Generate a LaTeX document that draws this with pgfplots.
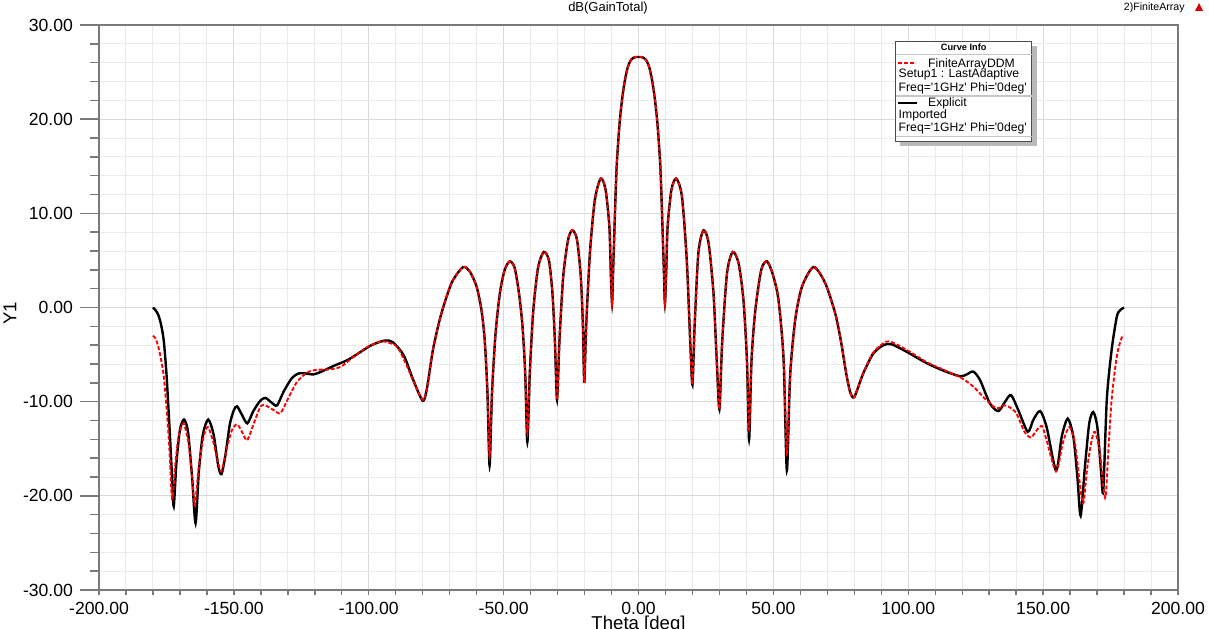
\documentclass[border=0pt]{standalone}
\usepackage{fontspec}
\setmainfont{Liberation Sans}
\usepackage{pgfplots}
\pgfplotsset{compat=1.18}
\usepackage{pgfplotstable}
\definecolor{axgray}{HTML}{7A7A7A}
\definecolor{majgrid}{HTML}{DADADA}
\definecolor{mingrid}{HTML}{EBEBEB}
\newcommand{\q}{\textquotesingle}

\pgfplotstableread{
theta gain
-180 0.0
-179 -0.3
-178 -0.8
-177 -1.8
-176 -3.5
-175 -7.0
-174 -12.0
-173 -17.5
-172.3 -21.1
-171.3 -16.5
-170 -13.0
-168.5 -11.9
-167 -13.2
-165.5 -18.0
-164.2 -22.9
-163 -17.5
-161.5 -13.5
-159.5 -11.9
-157.5 -13.5
-155.8 -16.8
-154.6 -17.7
-153.2 -15.8
-151.5 -12.4
-150 -10.9
-148.8 -10.5
-147 -11.4
-145 -12.3
-142.8 -11.0
-140.2 -9.9
-138.3 -9.6
-136 -10.1
-134 -10.4
-131.5 -8.9
-128.5 -7.5
-126 -7.0
-123.5 -7.0
-120.5 -7.1
-117.5 -6.8
-113 -6.2
-108 -5.6
-104 -4.9
-99 -4.0
-94 -3.5
-91 -3.7
-87 -5.1
-83.5 -7.7
-80 -9.9
-78.5 -8.7
-76.2 -4.5
-73.7 -1.3
-71.2 1.1
-68.8 2.9
-65 4.3
-62.5 3.8
-60 2.2
-58.2 -0.3
-57 -3.5
-56 -9.0
-55.2 -16.8
-54.3 -9.0
-53 -2.8
-51.4 1.5
-49.6 4.0
-47.7 4.9
-45.9 4.2
-44.3 1.5
-43 -2.0
-42 -7.0
-41.2 -14.3
-40.3 -7.0
-39 -0.3
-37.2 4.3
-35.1 5.9
-33.2 5.0
-31.9 1.5
-31 -3.5
-30.2 -9.8
-29.3 -3.5
-27.9 3.3
-26.1 7.2
-24.5 8.2
-22.8 7.2
-21.4 3.3
-20.6 -2.0
-20.1 -8.0
-19.4 -2.0
-18 5.8
-16.2 11.4
-14 13.7
-12.2 12.5
-10.8 8.6
-10.3 4.0
-9.8 0.4
-9.4 4.0
-9 7.5
-8.5 12.0
-8 15.5
-7 19.6
-6 22.3
-5 24.2
-4 25.5
-3 26.2
-2 26.5
-1 26.6
0 26.6
1 26.6
2 26.5
3 26.2
4 25.5
5 24.2
6 22.3
7 19.6
8 15.5
8.5 12.0
9 7.5
9.4 4.0
9.8 0.4
10.3 4.0
10.8 8.6
12.2 12.5
14 13.7
16.1 11.8
17.9 5.0
19.2 -3.8
20.0 -8.2
20.8 -2.0
22.2 5.8
24.1 8.2
26 6.8
27.8 1.5
29 -5.6
30 -10.8
31 -3.8
32.8 3.6
34.9 5.9
37.1 4.7
38.9 0.8
40.2 -5.6
41 -14.0
41.9 -5.6
43.3 -0.3
45.5 4.0
47.6 4.9
49.7 3.6
51.9 0.8
53.8 -5.6
55 -17.3
56.2 -7.3
58.1 -1.3
60.6 2.2
64.9 4.3
69.2 2.6
72.9 -0.6
75 -3.5
77 -7.0
78.5 -9.0
80 -9.5
83.3 -7.0
87 -4.9
90.8 -4.0
93.8 -3.9
99.4 -4.7
106.8 -5.9
113 -6.7
119.2 -7.3
121.7 -7.1
124.1 -6.8
126.6 -7.7
130.3 -10.2
133.4 -11.0
135.9 -10.0
138.1 -9.3
140.8 -10.9
144.3 -13.2
146.4 -11.9
148.9 -11.0
151.3 -12.7
154.8 -17.3
156.9 -13.7
159.1 -11.8
161.2 -13.7
162.7 -18.0
163.9 -22.1
165.5 -16.9
167.1 -12.3
168.6 -11.1
170.1 -12.7
171.5 -17.5
172.3 -19.5
173.6 -9.8
175.4 -4.5
177.3 -1.0
178.5 -0.3
180 0.0
}\explicitdata

\pgfplotstableread{
theta gain
-180 -3.0
-179 -3.3
-178 -4.2
-177 -5.5
-176 -7.3
-175 -10.5
-174 -14.5
-172.9 -20.3
-171.8 -16.9
-170.5 -13.7
-168.7 -12.3
-166.8 -14.4
-165.5 -18.0
-164.5 -21.0
-163 -16.9
-161.2 -13.7
-159.6 -12.7
-157.5 -14.4
-154.8 -17.4
-152.5 -14.8
-150.7 -13.0
-148.8 -12.4
-147 -13.2
-145.1 -14.1
-142.6 -12.3
-140.1 -10.5
-138.3 -10.4
-135.2 -10.9
-132.7 -11.2
-129.6 -9.5
-126.6 -7.9
-122.8 -6.9
-119.1 -6.6
-115.4 -6.6
-110.4 -6.3
-105.5 -5.2
-100.5 -4.2
-95.6 -3.6
-93.1 -3.7
-89.4 -4.2
-85.7 -6.3
-83.5 -7.8
-80 -9.8
-78.5 -8.7
-76.2 -4.5
-73.7 -1.3
-71.2 1.1
-68.8 2.9
-65 4.3
-62.5 3.8
-60 2.2
-58.2 -0.3
-57 -3.5
-56 -9.0
-55.2 -15.8
-54.3 -9.0
-53 -2.8
-51.4 1.5
-49.6 4.0
-47.7 4.9
-45.9 4.2
-44.3 1.5
-43 -2.0
-42 -7.0
-41.2 -13.3
-40.3 -7.0
-39 -0.3
-37.2 4.3
-35.1 5.9
-33.2 5.0
-31.9 1.5
-31 -3.5
-30.2 -9.8
-29.3 -3.5
-27.9 3.3
-26.1 7.2
-24.5 8.2
-22.8 7.2
-21.4 3.3
-20.6 -2.0
-20.1 -8.0
-19.4 -2.0
-18 5.8
-16.2 11.4
-14 13.7
-12.2 12.5
-10.8 8.6
-10.3 4.0
-9.8 0.4
-9.4 4.0
-9 7.5
-8.5 12.0
-8 15.5
-7 19.6
-6 22.3
-5 24.2
-4 25.5
-3 26.2
-2 26.5
-1 26.6
0 26.6
1 26.6
2 26.5
3 26.2
4 25.5
5 24.2
6 22.3
7 19.6
8 15.5
8.5 12.0
9 7.5
9.4 4.0
9.8 0.4
10.3 4.0
10.8 8.6
12.2 12.5
14 13.7
16.1 11.8
17.9 5.0
19.2 -3.8
20.0 -8.2
20.8 -2.0
22.2 5.8
24.1 8.2
26 6.8
27.8 1.5
29 -5.6
30 -10.8
31 -3.8
32.8 3.6
34.9 5.9
37.1 4.7
38.9 0.8
40.2 -5.6
41 -12.9
41.9 -5.6
43.3 -0.3
45.5 4.0
47.6 4.9
49.7 3.6
51.9 0.8
53.8 -5.6
55 -15.5
56.2 -7.3
58.1 -1.3
60.6 2.2
64.9 4.3
69.2 2.6
72.9 -0.6
75 -3.5
77 -7.0
78.5 -9.0
80 -9.5
83.3 -7.0
87 -4.8
90.8 -3.8
93.2 -3.6
99.4 -4.5
106.8 -5.8
113 -6.6
119.8 -7.5
124.1 -8.4
127.8 -9.5
131.5 -10.5
133.5 -10.7
135.3 -10.4
137 -10.5
140 -11.2
143.1 -13.2
145.5 -13.8
147.7 -13.0
149.6 -12.6
151.3 -14.1
154.8 -17.4
157.3 -14.4
159.7 -12.7
161.8 -14.4
163.6 -18.7
164.9 -20.8
166.4 -16.9
168 -14.1
169.2 -13.2
170.9 -15.1
172.3 -19.0
173.2 -20.1
174.2 -15.1
175.4 -9.8
177.3 -5.2
179.1 -3.2
180 -3.0
}\ddmdata

\begin{document}
\begin{tikzpicture}
\begin{axis}[
  at={(0,0)}, anchor=south west,
  scale only axis, width=539.5pt, height=282.5pt,
  xmin=-200, xmax=200, ymin=-30, ymax=30,
  xtick={-200,-150,...,200}, minor x tick num=4,
  xticklabels=\empty, xtick style={draw=none},
  ytick={-30,-20,...,30}, minor y tick num=4,
  yticklabels={-30.00,-20.00,-10.00,0.00,10.00,20.00,30.00},
  ytick pos=left, tick align=outside,
  major tick length=9.5pt, minor tick length=4.5pt,
  ytick style={axgray, line width=0.7pt},
  grid=both,
  major grid style={majgrid, line width=0.6pt},
  minor grid style={mingrid, line width=0.5pt},
  axis line style={axgray, line width=1pt},
  tick label style={font=\fontsize{8.8}{10}\selectfont},
  ylabel={Y1},
  ylabel style={at={(axis description cs:-0.0825,0.49)}, anchor=center, font=\fontsize{9.3}{10}\selectfont},
]
\addplot[black, line width=1.2pt, smooth, tension=0.45] table[x=theta, y=gain] {\explicitdata};
\addplot[red, line width=0.95pt, dash pattern=on 2pt off 1pt, smooth, tension=0.45] table[x=theta, y=gain] {\ddmdata};
\end{axis}
\begin{axis}[
  at={(0,0)}, anchor=south west,
  scale only axis, width=539.5pt, height=282.5pt,
  xmin=-200, xmax=200, ymin=-30, ymax=30,
  hide y axis,
  axis x line*=bottom,
  x axis line style={axgray, line width=1pt, -},
  xtick={-200,-150,...,200}, minor x tick num=4,
  xticklabels={-200.00,-150.00,-100.00,-50.00,0.00,50.00,100.00,150.00,200.00},
  tick align=outside,
  major tick length=2.5pt, minor tick length=2.5pt,
  xtick style={axgray, line width=0.7pt},
  tick label style={font=\fontsize{8.8}{10}\selectfont},
  xlabel={Theta [deg]},
  xlabel style={at={(axis description cs:0.5,-0.046)}, anchor=north, inner sep=0pt, font=\fontsize{9.3}{10}\selectfont},
]
\end{axis}
\begin{scope}[x=0.5pt, y=-0.5pt, shift={(-49.5pt,295pt)}]
  \node[font=\fontsize{6.5}{7}\selectfont] at (608,8) {dB(GainTotal)};
  \node[font=\fontsize{5.3}{6}\selectfont, anchor=east, inner sep=0pt] at (1185,8) {2)FiniteArray};
  \fill[red!85!black] (1195,11) -- (1199,3) -- (1203,11) -- cycle;
  % legend box
  \fill[gray!55] (900,46) rectangle (1036.5,145.5);
  \filldraw[fill=white, draw=gray!60!black, line width=0.5pt] (895.7,41.7) rectangle (1031.7,141.7);
  \draw[gray!45, line width=0.5pt] (895.7,55) -- (1031.7,55);
  \draw[gray!45, line width=0.6pt] (895.7,96) -- (1031.7,96);
  \draw[gray!45, line width=0.5pt] (895.7,136) -- (1031.7,136);
  \node[font=\bfseries\fontsize{4.6}{5}\selectfont, anchor=base, inner sep=0pt] at (963.7,50.7) {Curve Info};
  \draw[red, line width=0.8pt, dash pattern=on 2pt off 1pt] (898,63.3) -- (916,63.3);
  \draw[black, line width=0.9pt] (898,102.7) -- (917,102.7);
  \begin{scope}[every node/.style={anchor=base west, inner sep=0pt, font=\fontsize{6.1}{6.5}\selectfont}]
    \node at (927.7,67.3) {FiniteArrayDDM};
    \node at (898.3,77.3) {Setup1 : LastAdaptive};
    \node at (898.3,91) {Freq=\q1GHz\q\ Phi=\q0deg\q};
    \node at (927.7,106.5) {Explicit};
    \node at (898.3,118.5) {Imported};
    \node at (898.3,131.3) {Freq=\q1GHz\q\ Phi=\q0deg\q};
  \end{scope}
\end{scope}
\pgfresetboundingbox
\useasboundingbox (-49.5pt,-19pt) rectangle (555pt,295pt);
\end{tikzpicture}
\end{document}
